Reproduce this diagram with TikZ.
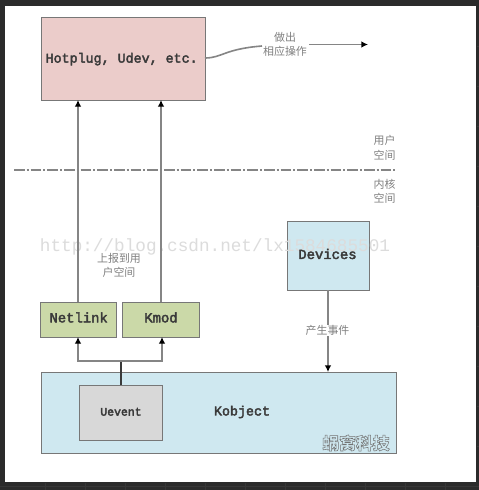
\documentclass[tikz,border=0pt]{standalone}
\usepackage{fontspec}
\setmainfont{Liberation Mono}
\newfontfamily\cjk{Noto Sans CJK SC}
\usetikzlibrary{arrows.meta}
\definecolor{bgdark}{HTML}{2B2B2B}
\definecolor{griddark}{HTML}{363636}
\definecolor{edgegrey}{HTML}{777777}
\definecolor{linegrey}{HTML}{858585}
\definecolor{inkgrey}{HTML}{3A3A3A}
\definecolor{pinkfill}{HTML}{EBCCCA}
\definecolor{bluefill}{HTML}{CFE8F0}
\definecolor{greenfill}{HTML}{CBD9A8}
\definecolor{greyfill}{HTML}{D8D8D8}
\definecolor{urlgrey}{HTML}{DCDCDC}
\newcommand{\heavy}[1]{\special{pdf:code 2 Tr 0.3 w 0.23 G}#1\special{pdf:code 0 Tr}}
\tikzset{
  x=0.75pt,y=-0.75pt,
  boxnode/.style={draw=edgegrey,line width=1pt,anchor=north west,inner sep=0pt,font=\fontsize{#1}{#1}\selectfont,text=inkgrey},
  boxnode/.default=10,
  link/.style={draw=linegrey,line width=1.2pt,-{Latex[length=5pt,width=5pt,color=black]}},
  plainlink/.style={draw=linegrey,line width=1.2pt},
  note/.style={font=\cjk\fontsize{8.2}{10.9}\selectfont,text=black!50,align=center,inner sep=0.5pt},
  gap/.style={note,fill=white}
}
\begin{document}
\begin{tikzpicture}
\useasboundingbox (0,0) rectangle (479,490);
\fill[bgdark] (0,0) rectangle (479,490);
\foreach \gx in {45,85,...,445} \draw[griddark,line width=0.5pt] (\gx,483) -- (\gx,490);
\foreach \gy in {46,86,...,446} \draw[griddark,line width=0.5pt] (477,\gy) -- (479,\gy);
\draw[griddark,line width=0.5pt] (0,486) -- (479,486);
\fill[white] (5,6) rectangle (476,482);
% boxes
\node[boxnode=10,fill=pinkfill,minimum width=123pt,minimum height=62.2pt] (hot) at (41,17) {\hspace*{-3pt}\heavy{Hotplug, Udev, etc.}};
\node[boxnode=10.4,fill=greenfill,minimum width=57pt,minimum height=26.2pt] (net) at (40,302) {\raisebox{4.2pt}{\heavy{Netlink}}};
\node[boxnode=10.4,fill=greenfill,minimum width=57.5pt,minimum height=26.2pt] (kmod) at (122,302) {\raisebox{4.2pt}{\heavy{Kmod}}};
\node[boxnode=10,fill=bluefill,minimum width=61.5pt,minimum height=51.7pt] (dev) at (287,221) {};
\node[boxnode=10,fill=bluefill,minimum width=266pt,minimum height=60.8pt] (kob) at (41,372) {};
\node[boxnode=8.6,fill=greyfill,minimum width=62pt,minimum height=41.2pt] (uev) at (79,385) {\raisebox{2.1pt}{\heavy{Uevent}}};
\node[font=\fontsize{10}{10}\selectfont,text=inkgrey] (koblabel) at (242,412) {\heavy{Kobject}};
% watermark url
\node[font=\fontsize{13.26}{13.26}\selectfont,text=urlgrey] (url) at (215,247) {http://blog.csdn.net/lx1584685501};
\node[font=\fontsize{10.4}{10.4}\selectfont,text=inkgrey] (devlabel) at (327.5,254) {\heavy{Devices}};
% connectors
\coordinate (hotA) at (78,100);
\coordinate (hotB) at (161,100);
\coordinate (netT) at (78,302);
\coordinate (kmodT) at (161,302);
\draw[link] (netT) -- (hotA);
\draw[link] (kmodT) -- (hotB);
\coordinate (netB) at (78,337);
\coordinate (kmodB) at (162,337);
\coordinate (branch) at (121,361);
\coordinate (uevT) at (121,385);
\draw[plainlink,draw=inkgrey] (uevT) -- (branch);
\draw[link] (branch) -| (netB);
\draw[link] (branch) -| (kmodB);
\coordinate (devB) at (328,290);
\coordinate (kobT) at (328,372);
\draw[link] (devB) -- (kobT);
\node[gap] (ev) at (327.5,330.5) {产生事件};
% action curve
\node[note] (act) at (285,44.5) {做出\\相应操作};
\coordinate (hotR) at (205,58);
\coordinate (actEnd) at (368,44.5);
\draw[plainlink] (hotR) .. controls (222,58) and (224,49) .. (262,46);
\draw[link] (309,44.5) -- (actEnd);
% separator
\coordinate (sepL) at (14,170);
\coordinate (sepR) at (396,170);
\draw[draw=linegrey,line width=0.9pt,dash pattern=on 8pt off 1.5pt on 1.5pt off 1.5pt] (sepL) -- (sepR);
% labels
\node[note] (user) at (384.5,148) {用户\\空间};
\node[note] (kern) at (384.5,191.5) {内核\\空间};
\node[note] (up) at (119,265.5) {上报到用\\户空间};
% stamp
\node[font=\cjk\bfseries\fontsize{12.6}{12.6}\selectfont,text=white!92!black] (wm) at (356,443) {\special{pdf:code 1 Tr 0.4 w 0.45 G}蜗窝科技\special{pdf:code 0 Tr}};
\end{tikzpicture}
\end{document}
